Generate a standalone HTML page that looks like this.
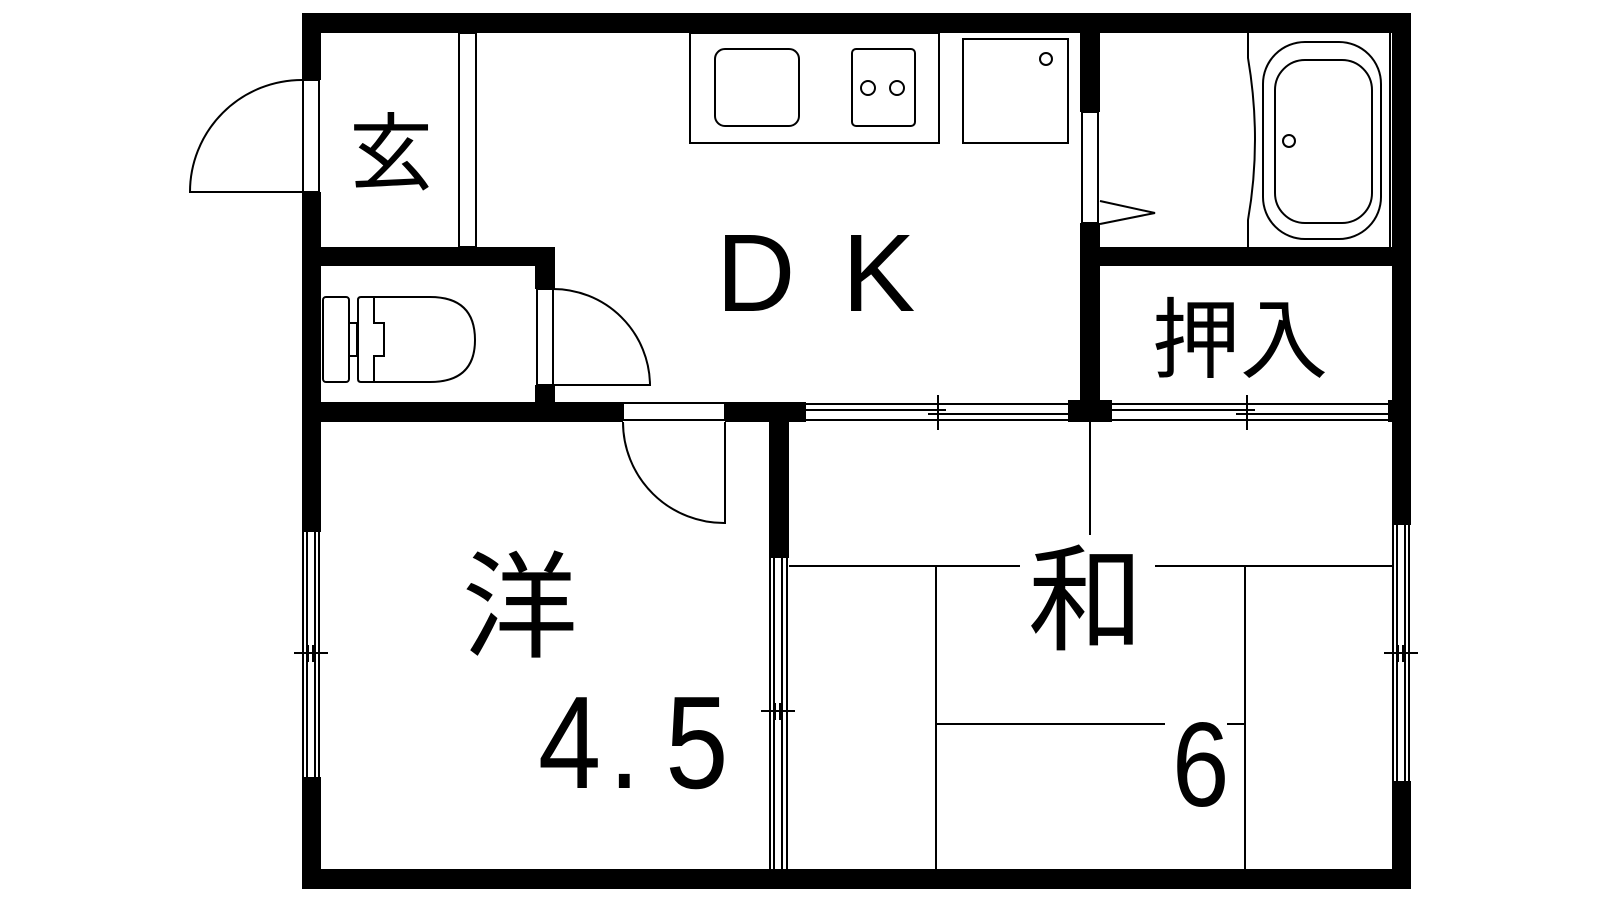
<!DOCTYPE html>
<html><head><meta charset="utf-8"><style>
html,body{margin:0;padding:0;background:#fff;}
svg{display:block;}
text{font-family:"Liberation Sans","Noto Sans CJK JP",sans-serif;fill:#000;}
</style></head><body>
<svg width="1600" height="900" viewBox="0 0 1600 900" xmlns="http://www.w3.org/2000/svg">
<g fill="#000">
<rect x="302" y="13" width="1109" height="20"/>
<rect x="302" y="869" width="1109" height="20"/>
<rect x="302" y="13" width="19" height="67"/>
<rect x="302" y="192" width="19" height="340"/>
<rect x="302" y="777" width="19" height="112"/>
<rect x="1392" y="13" width="19" height="512"/>
<rect x="1392" y="781" width="19" height="108"/>
<rect x="321" y="247" width="234" height="19"/>
<rect x="535" y="247" width="20" height="42"/>
<rect x="535" y="385" width="20" height="37"/>
<rect x="321" y="402" width="302" height="20"/>
<rect x="725" y="402" width="81" height="20"/>
<rect x="769" y="402" width="20" height="156"/>
<rect x="1080" y="33" width="20" height="79"/>
<rect x="1080" y="223" width="20" height="179"/>
<rect x="1068" y="400" width="44" height="22"/>
<rect x="1100" y="247" width="292" height="19"/>
<rect x="1388" y="400" width="23" height="22"/>
</g>
<g fill="none" stroke="#000" stroke-width="2">
<rect x="303" y="80" width="16" height="112"/>
<path d="M302 192 H190 A112 112 0 0 1 302 80"/>
<rect x="459" y="33" width="17" height="214"/>
<rect x="537" y="289" width="16" height="96"/>
<path d="M553 385 H650 A97 97 0 0 0 553 289"/>
<rect x="323" y="297" width="26" height="85" rx="3"/>
<rect x="349" y="323" width="8" height="33"/>
<path d="M361 297 H430 Q475 297 475 340 Q475 382 430 382 H361 Q358 382 358 379 V300 Q358 297 361 297 Z"/>
<path d="M374 297 V323 H384 V356 H374 V382"/>
<rect x="623" y="403" width="102" height="17"/>
<path d="M725 422 V523 A101 101 0 0 1 623 422"/>
<rect x="690" y="33" width="249" height="110"/>
<rect x="715" y="49" width="84" height="77" rx="10"/>
<rect x="852" y="49" width="63" height="77" rx="4"/>
<circle cx="868" cy="88" r="7"/>
<circle cx="897" cy="88" r="7"/>
<rect x="963" y="39" width="105" height="104"/>
<circle cx="1046" cy="59" r="6"/>
<rect x="1082" y="112" width="16" height="111"/>
<path d="M1100 201 L1155 213 L1100 224"/>
<path d="M1248 33 V58 Q1262 140 1248 220 V247"/>
<rect x="1263" y="42" width="118" height="197" rx="42"/>
<rect x="1275" y="60" width="97" height="163" rx="30"/>
<circle cx="1289" cy="141" r="6"/>
<line x1="1390" y1="33" x2="1390" y2="247"/>
<path d="M806 404 H1068 M806 420 H1068 M806 410 H946 M928 414 H1068 M938 395 V430"/>
<path d="M1112 404 H1388 M1112 420 H1388 M1112 410 H1255 M1236 414 H1388 M1247 395 V430"/>
<path d="M303 532 V777 M307 532 V777 M315 532 V777 M319 532 V777 M294 653 H328 M308 645 V662 M313 645 V662"/>
<path d="M770 558 V869 M774 558 V869 M782 558 V869 M787 558 V869 M761 711 H795 M775 703 V720 M780 703 V720"/>
<path d="M1393 525 V781 M1397 525 V781 M1405 525 V781 M1409 525 V781 M1384 653 H1418 M1398 645 V662 M1403 645 V662"/>
<path d="M1090 422 V535"/>
<path d="M789 566 H1020 M1155 566 H1392"/>
<path d="M936 566 V869 M1245 566 V869"/>
<path d="M936 724 H1165 M1227 724 H1245"/>
</g>
<text x="349" y="183" font-size="84">玄</text>
<text x="716" y="311" font-size="110">D</text>
<text x="842" y="311" font-size="110">K</text>
<text x="1152" y="371" font-size="88">押入</text>
<text x="462" y="648" font-size="116">洋</text>
<g transform="translate(538,788) scale(0.86,1)">
<text x="0" y="0" font-size="132">4</text>
<text x="82" y="0" font-size="132">.</text>
<text x="148" y="0" font-size="132">5</text>
</g>
<text x="1028" y="641" font-size="116">和</text>
<text x="1172" y="806" font-size="120" transform="translate(1172,0) scale(0.86,1) translate(-1172,0)">6</text>
</svg>
</body></html>
